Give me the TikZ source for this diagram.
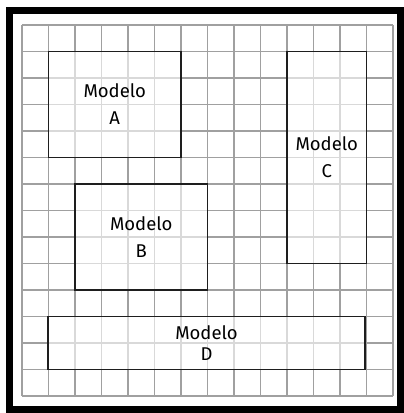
\documentclass[tikz,border=0pt]{standalone}
\usepackage{fontspec}
\setmainfont{Fira Sans}
\usepackage{tikz}
\definecolor{GridGray}{RGB}{160,160,160}
\definecolor{BoxLine}{RGB}{30,30,30}

\tikzset{
  gridline/.style={draw=GridGray, line width=1.4pt},
  modelo/.style={draw=BoxLine, line width=1.7pt, fill=white, fill opacity=0.6,
                 text opacity=1, align=center, inner sep=0pt,
                 font=\fontsize{18.5}{27}\selectfont},
}

\begin{document}
\begin{tikzpicture}[x=1pt,y=-1pt]
  \useasboundingbox (0,0) rectangle (404,413);
  % grid, 14 x 14 cells
  \foreach \i in {0,...,14}{
    \draw[gridline] (22+26.5*\i,25) -- (22+26.5*\i,396);
    \draw[gridline] (22,25+26.5*\i) -- (393,25+26.5*\i);
  }
  % frame
  \draw[line width=7pt] (9.5,10.5) rectangle (400.5,409.5);

  \node[modelo, minimum width=132.5pt, minimum height=106pt] (modA) at (114.75,104.5) {Modelo\\A};
  \node[modelo, minimum width=132.5pt, minimum height=106pt] (modB) at (141.25,237) {Modelo\\B};
  \node[modelo, minimum width=79.5pt, minimum height=212pt] (modC) at (326.75,157.5) {Modelo\\C};
  \node[modelo, minimum width=316.5pt, minimum height=53pt] (modD) at (206.5,343) {Modelo\\[-6pt]D};
\end{tikzpicture}
\end{document}
